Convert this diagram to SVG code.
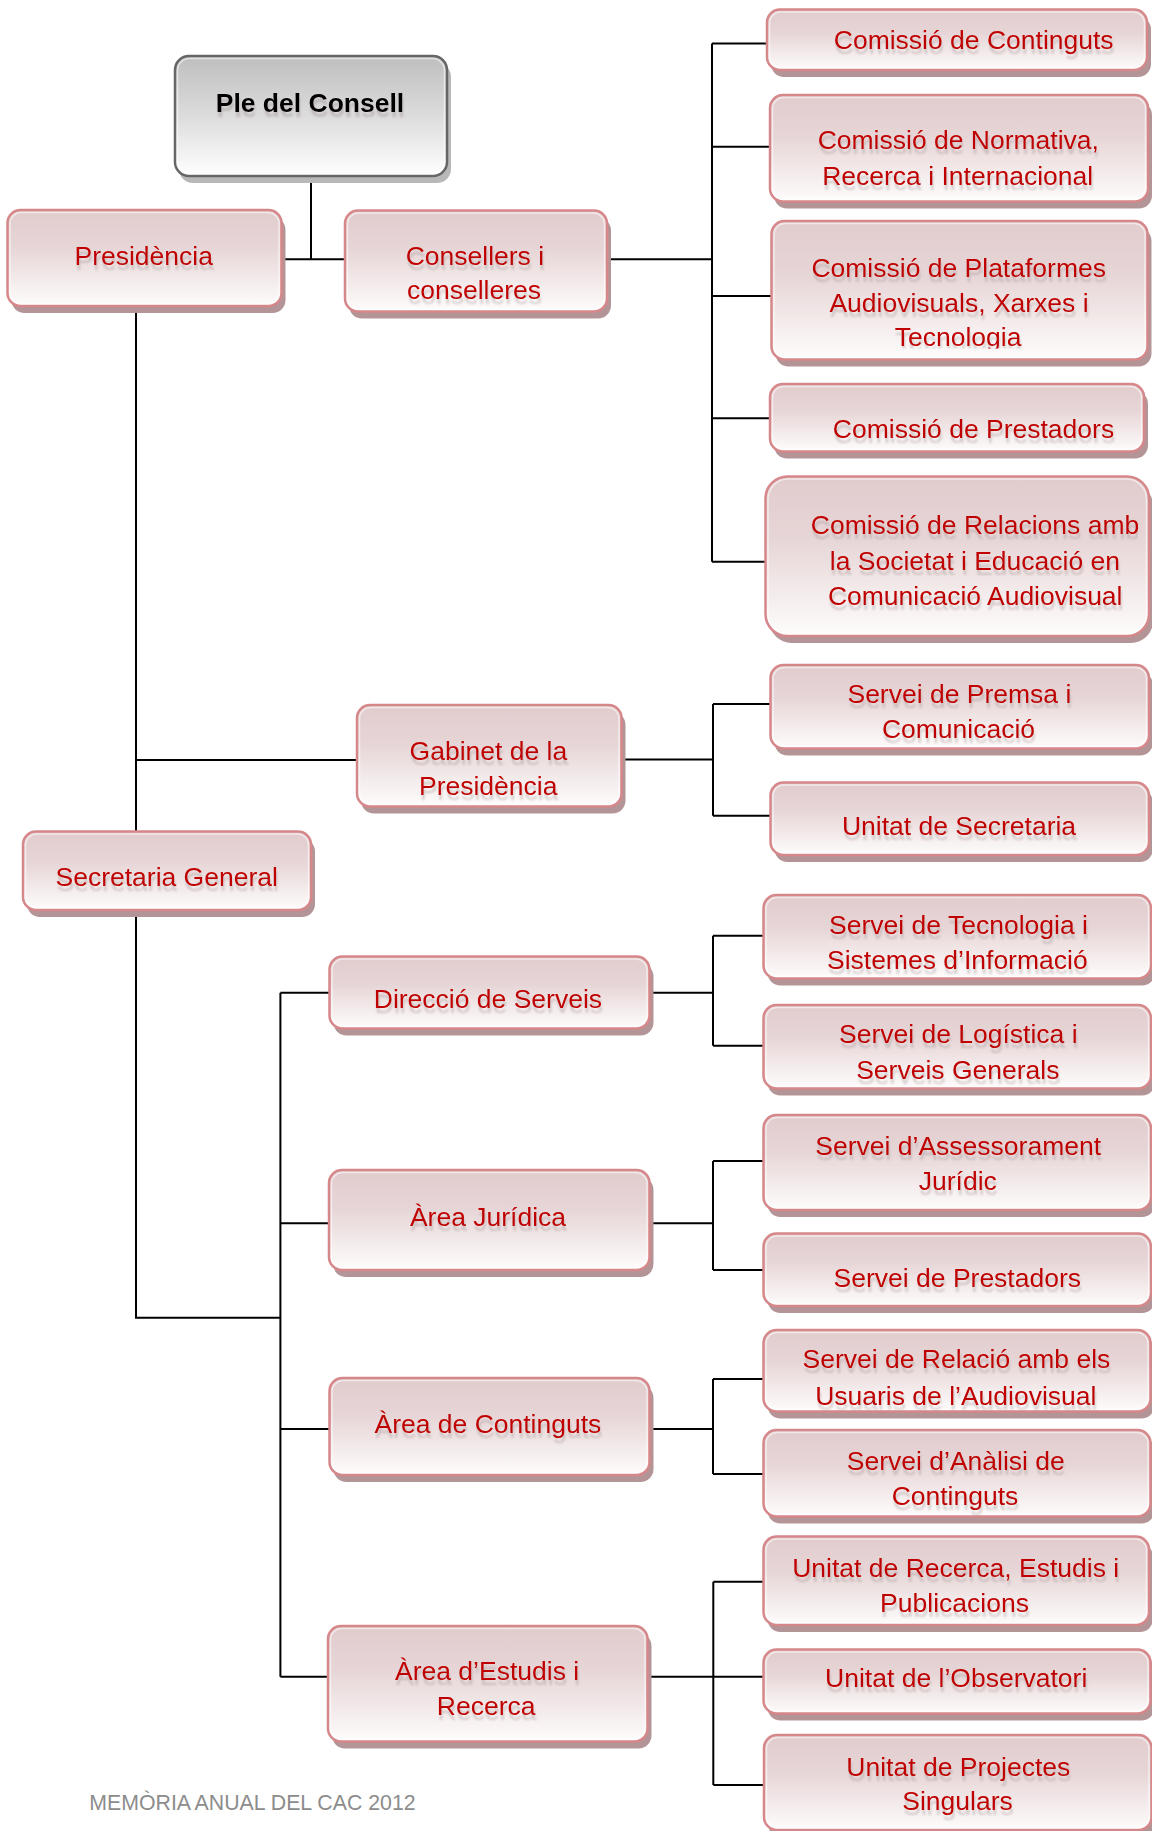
<svg xmlns="http://www.w3.org/2000/svg" width="1152" height="1831" viewBox="0 0 1152 1831">
<defs>
<linearGradient id="gr" x1="0" y1="0" x2="0" y2="1">
<stop offset="0" stop-color="#e1cbcd"/>
<stop offset="0.4" stop-color="#e7d6d7"/>
<stop offset="1" stop-color="#fefcfc"/>
</linearGradient>
<linearGradient id="gg" x1="0" y1="0" x2="0" y2="1">
<stop offset="0" stop-color="#bebebe"/>
<stop offset="0.5" stop-color="#dcdcdc"/>
<stop offset="1" stop-color="#ffffff"/>
</linearGradient>
<filter id="ts" x="-5%" y="-30%" width="110%" height="180%">
<feGaussianBlur in="SourceAlpha" stdDeviation="1.2"/>
<feOffset dx="1" dy="5" result="b"/>
<feFlood flood-color="#9a8a8a" flood-opacity="0.4"/>
<feComposite in2="b" operator="in"/>
<feMerge><feMergeNode/><feMergeNode in="SourceGraphic"/></feMerge>
</filter>
<clipPath id="clipTec"><rect x="760" y="320" width="390" height="28.5"/></clipPath>
<clipPath id="clipRel"><rect x="760" y="500" width="378" height="50"/></clipPath>
</defs>
<style>
.sh{fill:#b39597}
.shg{fill:#b8b8b8}
.bx{fill:url(#gr);stroke:#d6878a;stroke-width:2.5}
.bg{fill:url(#gg);stroke:#666;stroke-width:2.5}
.hl{fill:none;stroke:#ffffff;stroke-opacity:0.55;stroke-width:1.5}
.t{font-family:"Liberation Sans",Arial,sans-serif;font-size:26.5px;fill:#c00000;text-anchor:middle;filter:url(#ts)}
.tb{font-family:"Liberation Sans",Arial,sans-serif;font-size:26.5px;font-weight:bold;fill:#000;text-anchor:middle;filter:url(#ts)}
.ft{font-family:"Liberation Sans",Arial,sans-serif;font-size:21.3px;fill:#8c8c8c}
.cn{fill:none;stroke:#000;stroke-width:2}
</style>
<rect width="1152" height="1831" fill="#ffffff"/>
<g id="connectors">
<path class="cn" d="M311 176V259.3 M283.5 259.3H345 M607 259.3H712 M712 43.5V561.7 M712 43.5H767 M712 146.7H770 M712 296H771.5 M712 418.3H770 M712 561.7H765.5 M136 306V831.5 M136 760H357 M621.5 759.5H713 M713 704V815.7 M713 704H770.5 M713 815.7H770.5 M136 910V1317.7H280.4 M280.4 992.7V1676.7 M280.4 992.7H329.5 M280.4 1223.3H329 M280.4 1429H329.5 M280.4 1676.7H328 M649.5 992.7H713 M713 935.7V1045.7 M713 935.7H763.5 M713 1045.7H763.5 M649.5 1223.3H713 M713 1161V1270 M713 1161H763.5 M713 1270H763.5 M649.5 1429H713 M713 1379V1474 M713 1379H763.5 M713 1474H763.5 M647.5 1676.7H713.3 M713.3 1581.7V1785 M713.3 1581.7H763.5 M713.3 1676.7H763.5 M713.3 1785H764"/>
</g>
<g id="ple">
<rect class="shg" x="179" y="63" width="272" height="120" rx="14"/>
<rect class="bg" x="175" y="56" width="272" height="120" rx="14"/>
<rect class="hl" x="177.5" y="58.5" width="267" height="115" rx="12"/>
<text class="tb" x="310" y="111.7">Ple del Consell</text>
</g>
<g id="presidencia">
<rect class="sh" x="11.5" y="217" width="274" height="96" rx="13"/>
<rect class="bx" x="7.5" y="210" width="274" height="96" rx="13"/>
<rect class="hl" x="10" y="212.5" width="269" height="91" rx="11"/>
<text class="t" x="143.7" y="265">Presidència</text>
</g>
<g id="consellers">
<rect class="sh" x="349" y="217.5" width="262" height="101" rx="13"/>
<rect class="bx" x="345" y="210.5" width="262" height="101" rx="13"/>
<rect class="hl" x="347.5" y="213" width="257" height="96" rx="11"/>
<text class="t" x="474.9" y="265">Consellers i</text>
<text class="t" x="474" y="299.3">conselleres</text>
</g>
<g id="comissio-continguts">
<rect class="sh" x="771" y="16.5" width="380" height="60.5" rx="13"/>
<rect class="bx" x="767" y="9.5" width="380" height="60.5" rx="13"/>
<rect class="hl" x="769.5" y="12" width="375" height="55.5" rx="11"/>
<text class="t" x="973.7" y="49.3">Comissió de Continguts</text>
</g>
<g id="comissio-normativa">
<rect class="sh" x="774" y="102" width="378" height="106.5" rx="13"/>
<rect class="bx" x="770" y="95" width="378" height="106.5" rx="13"/>
<rect class="hl" x="772.5" y="97.5" width="373" height="101.5" rx="11"/>
<text class="t" x="958.3" y="149.3">Comissió de Normativa,</text>
<text class="t" x="957.7" y="185">Recerca i Internacional</text>
</g>
<g id="comissio-plataformes">
<rect class="sh" x="775.5" y="228" width="376" height="138.5" rx="13"/>
<rect class="bx" x="771.5" y="221" width="376" height="138.5" rx="13"/>
<rect class="hl" x="774" y="223.5" width="371" height="133.5" rx="11"/>
<text class="t" x="958.7" y="276.7">Comissió de Plataformes</text>
<text class="t" x="959" y="311.7">Audiovisuals, Xarxes i</text>
<g clip-path="url(#clipTec)"><text class="t" x="958.1" y="346">Tecnologia</text></g>
</g>
<g id="comissio-prestadors">
<rect class="sh" x="774" y="391" width="374" height="67.5" rx="13"/>
<rect class="bx" x="770" y="384" width="374" height="67.5" rx="13"/>
<rect class="hl" x="772.5" y="386.5" width="369" height="62.5" rx="11"/>
<text class="t" x="973.5" y="437.7">Comissió de Prestadors</text>
</g>
<g id="comissio-relacions">
<rect class="sh" x="769.5" y="483.5" width="383.5" height="159.5" rx="22"/>
<rect class="bx" x="765.5" y="476.5" width="383.5" height="159.5" rx="22"/>
<rect class="hl" x="768" y="479" width="378.5" height="154.5" rx="20"/>
<g clip-path="url(#clipRel)"><text class="t" x="975" y="534">Comissió de Relacions amb</text></g>
<text class="t" x="974.9" y="570">la Societat i Educació en</text>
<text class="t" x="975.2" y="605">Comunicació Audiovisual</text>
</g>
<g id="servei-premsa">
<rect class="sh" x="774.5" y="672" width="378.5" height="83.5" rx="13"/>
<rect class="bx" x="770.5" y="665" width="378.5" height="83.5" rx="13"/>
<rect class="hl" x="773" y="667.5" width="373.5" height="78.5" rx="11"/>
<text class="t" x="959.4" y="703.3">Servei de Premsa i</text>
<text class="t" x="958.5" y="738.3">Comunicació</text>
</g>
<g id="unitat-secretaria">
<rect class="sh" x="774.5" y="789.5" width="378.5" height="72.5" rx="13"/>
<rect class="bx" x="770.5" y="782.5" width="378.5" height="72.5" rx="13"/>
<rect class="hl" x="773" y="785" width="373.5" height="67.5" rx="11"/>
<text class="t" x="959" y="835">Unitat de Secretaria</text>
</g>
<g id="gabinet">
<rect class="sh" x="361" y="712" width="264.5" height="101.5" rx="13"/>
<rect class="bx" x="357" y="705" width="264.5" height="101.5" rx="13"/>
<rect class="hl" x="359.5" y="707.5" width="259.5" height="96.5" rx="11"/>
<text class="t" x="488.4" y="760">Gabinet de la</text>
<text class="t" x="488.2" y="795">Presidència</text>
</g>
<g id="secretaria-general">
<rect class="sh" x="27" y="838.5" width="288" height="78.5" rx="13"/>
<rect class="bx" x="23" y="831.5" width="288" height="78.5" rx="13"/>
<rect class="hl" x="25.5" y="834" width="283" height="73.5" rx="11"/>
<text class="t" x="166.7" y="885.7">Secretaria General</text>
</g>
<g id="direccio-serveis">
<rect class="sh" x="333.5" y="963.5" width="320" height="72" rx="13"/>
<rect class="bx" x="329.5" y="956.5" width="320" height="72" rx="13"/>
<rect class="hl" x="332" y="959" width="315" height="67" rx="11"/>
<text class="t" x="487.9" y="1008.3">Direcció de Serveis</text>
</g>
<g id="servei-tecnologia">
<rect class="sh" x="767.5" y="902" width="387.5" height="83.5" rx="13"/>
<rect class="bx" x="763.5" y="895" width="387.5" height="83.5" rx="13"/>
<rect class="hl" x="766" y="897.5" width="382.5" height="78.5" rx="11"/>
<text class="t" x="958.5" y="934">Servei de Tecnologia i</text>
<text class="t" x="957.3" y="969.3">Sistemes d’Informació</text>
</g>
<g id="servei-logistica">
<rect class="sh" x="767.5" y="1012" width="387.5" height="83.5" rx="13"/>
<rect class="bx" x="763.5" y="1005" width="387.5" height="83.5" rx="13"/>
<rect class="hl" x="766" y="1007.5" width="382.5" height="78.5" rx="11"/>
<text class="t" x="958.3" y="1043.3">Servei de Logística i</text>
<text class="t" x="957.8" y="1079.3">Serveis Generals</text>
</g>
<g id="area-juridica">
<rect class="sh" x="333" y="1177" width="320.5" height="100" rx="13"/>
<rect class="bx" x="329" y="1170" width="320.5" height="100" rx="13"/>
<rect class="hl" x="331.5" y="1172.5" width="315.5" height="95" rx="11"/>
<text class="t" x="488" y="1226">Àrea Jurídica</text>
</g>
<g id="servei-assessorament">
<rect class="sh" x="767.5" y="1122" width="387.5" height="95" rx="13"/>
<rect class="bx" x="763.5" y="1115" width="387.5" height="95" rx="13"/>
<rect class="hl" x="766" y="1117.5" width="382.5" height="90" rx="11"/>
<text class="t" x="958.2" y="1155">Servei d’Assessorament</text>
<text class="t" x="957.8" y="1190">Jurídic</text>
</g>
<g id="servei-prestadors">
<rect class="sh" x="767.5" y="1240.5" width="387.5" height="72.5" rx="13"/>
<rect class="bx" x="763.5" y="1233.5" width="387.5" height="72.5" rx="13"/>
<rect class="hl" x="766" y="1236" width="382.5" height="67.5" rx="11"/>
<text class="t" x="957.3" y="1286.7">Servei de Prestadors</text>
</g>
<g id="servei-relacio">
<rect class="sh" x="767.5" y="1337" width="387" height="81.5" rx="13"/>
<rect class="bx" x="763.5" y="1330" width="387" height="81.5" rx="13"/>
<rect class="hl" x="766" y="1332.5" width="382" height="76.5" rx="11"/>
<text class="t" x="956.4" y="1368.3">Servei de Relació amb els</text>
<text class="t" x="955.8" y="1405">Usuaris de l’Audiovisual</text>
</g>
<g id="area-continguts">
<rect class="sh" x="333.5" y="1385" width="320" height="97" rx="13"/>
<rect class="bx" x="329.5" y="1378" width="320" height="97" rx="13"/>
<rect class="hl" x="332" y="1380.5" width="315" height="92" rx="11"/>
<text class="t" x="487.9" y="1433.3">Àrea de Continguts</text>
</g>
<g id="servei-analisi">
<rect class="sh" x="767.5" y="1437" width="387" height="86.5" rx="13"/>
<rect class="bx" x="763.5" y="1430" width="387" height="86.5" rx="13"/>
<rect class="hl" x="766" y="1432.5" width="382" height="81.5" rx="11"/>
<text class="t" x="955.8" y="1470">Servei d’Anàlisi de</text>
<text class="t" x="955" y="1505">Continguts</text>
</g>
<g id="area-estudis">
<rect class="sh" x="332" y="1633" width="319.5" height="115.5" rx="13"/>
<rect class="bx" x="328" y="1626" width="319.5" height="115.5" rx="13"/>
<rect class="hl" x="330.5" y="1628.5" width="314.5" height="110.5" rx="11"/>
<text class="t" x="487.1" y="1680">Àrea d’Estudis i</text>
<text class="t" x="486.2" y="1715">Recerca</text>
</g>
<g id="unitat-recerca">
<rect class="sh" x="767.5" y="1543.5" width="385.5" height="88.5" rx="13"/>
<rect class="bx" x="763.5" y="1536.5" width="385.5" height="88.5" rx="13"/>
<rect class="hl" x="766" y="1539" width="380.5" height="83.5" rx="11"/>
<text class="t" x="955.7" y="1576.7">Unitat de Recerca, Estudis i</text>
<text class="t" x="954.5" y="1611.7">Publicacions</text>
</g>
<g id="unitat-observatori">
<rect class="sh" x="767.5" y="1656.5" width="387" height="64" rx="13"/>
<rect class="bx" x="763.5" y="1649.5" width="387" height="64" rx="13"/>
<rect class="hl" x="766" y="1652" width="382" height="59" rx="11"/>
<text class="t" x="956.2" y="1687.3">Unitat de l’Observatori</text>
</g>
<g id="unitat-projectes">
<rect class="sh" x="768" y="1742" width="387.5" height="95" rx="13"/>
<rect class="bx" x="764" y="1735" width="387.5" height="95" rx="13"/>
<rect class="hl" x="766.5" y="1737.5" width="382.5" height="90" rx="11"/>
<text class="t" x="958.3" y="1776">Unitat de Projectes</text>
<text class="t" x="957.5" y="1810">Singulars</text>
</g>
<text class="ft" x="89.3" y="1810">MEMÒRIA ANUAL DEL CAC 2012</text>
</svg>
